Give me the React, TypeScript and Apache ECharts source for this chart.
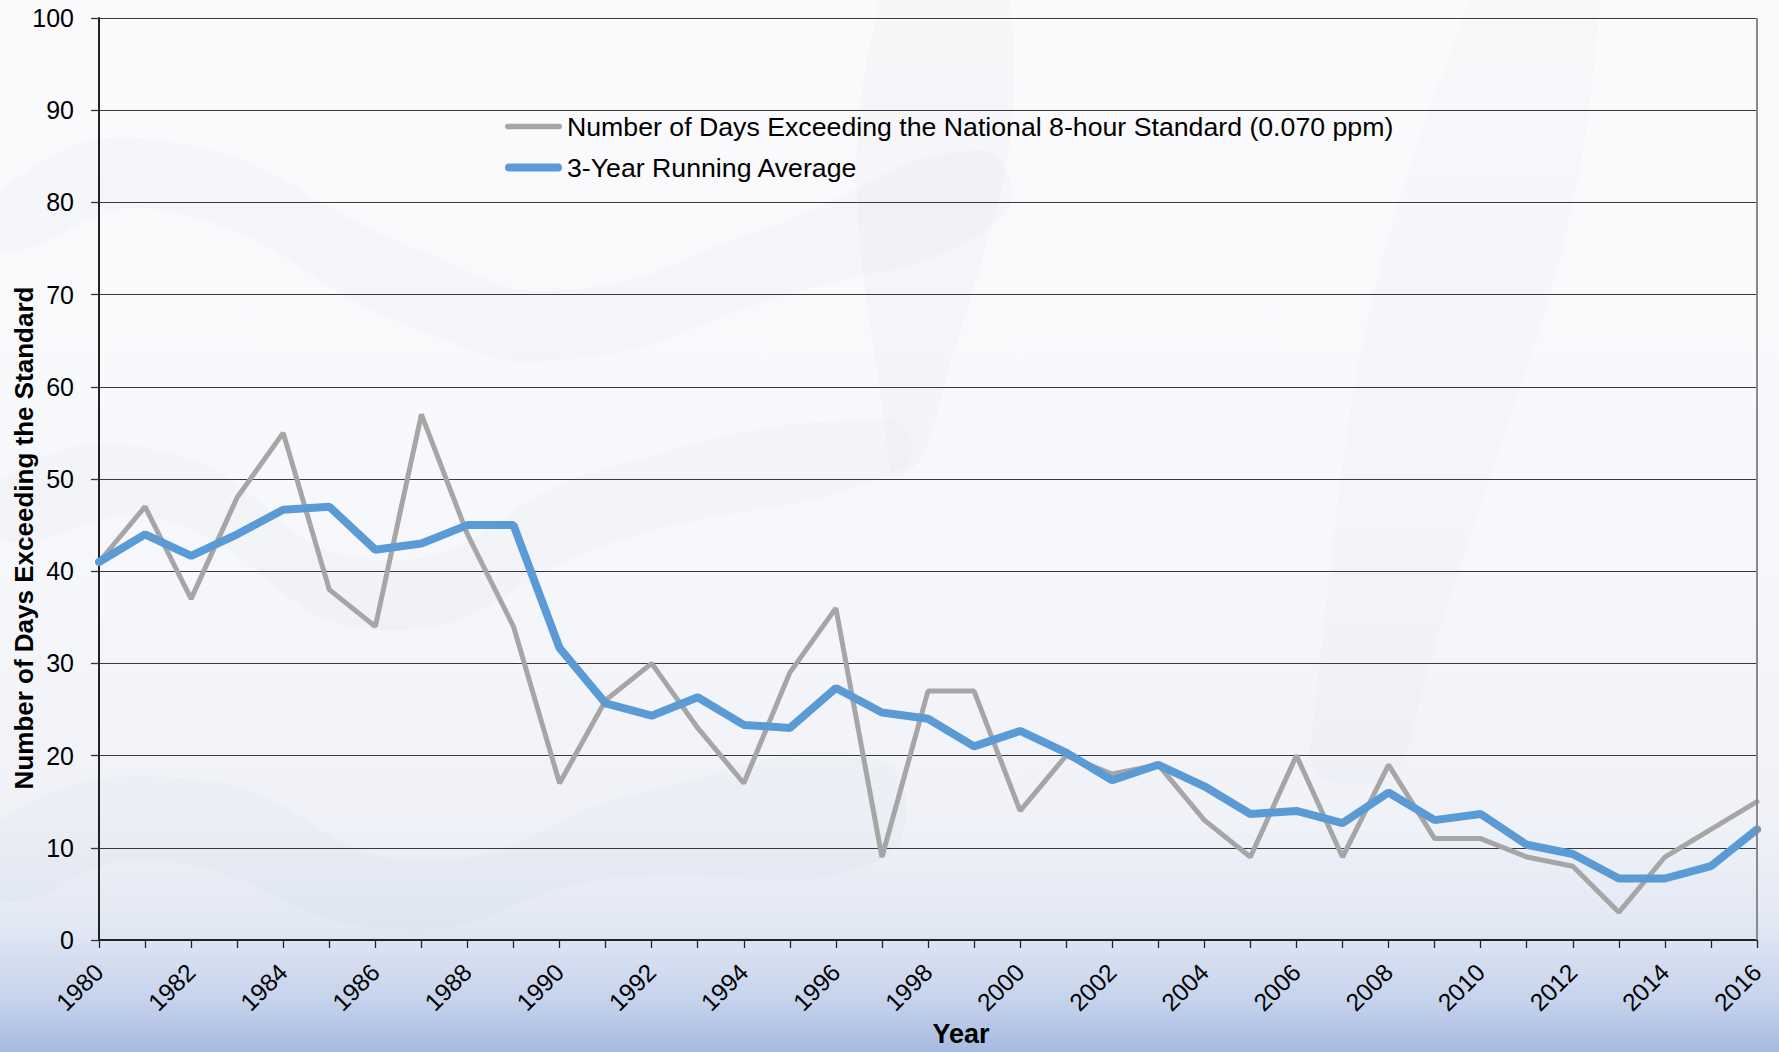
import React, { useEffect, useRef } from "react";
import * as echarts from "echarts";

const years: string[] = [
  "1980","1981","1982","1983","1984","1985","1986","1987","1988","1989",
  "1990","1991","1992","1993","1994","1995","1996","1997","1998","1999",
  "2000","2001","2002","2003","2004","2005","2006","2007","2008","2009",
  "2010","2011","2012","2013","2014","2015","2016",
];

const daysExceeding: number[] = [
  41, 47, 37, 48, 55, 38, 34, 57, 44, 34,
  17, 26, 30, 23, 17, 29, 36, 9, 27, 27,
  14, 20, 18, 19, 13, 9, 20, 9, 19, 11,
  11, 9, 8, 3, 9, 12, 15,
];

const runningAverage: number[] = [
  41.0, 44.0, 41.67, 44.0, 46.67, 47.0, 42.33, 43.0, 45.0, 45.0,
  31.67, 25.67, 24.33, 26.33, 23.33, 23.0, 27.33, 24.67, 24.0, 21.0,
  22.67, 20.33, 17.33, 19.0, 16.67, 13.67, 14.0, 12.67, 16.0, 13.0,
  13.67, 10.33, 9.33, 6.67, 6.67, 8.0, 12.0,
];

const seriesNames: string[] = [
  "Number of Days Exceeding the National 8-hour Standard (0.070 ppm)",
  "3-Year Running Average",
];

const xTitle = "Year";
const yTitle = "Number of Days Exceeding the Standard";

const FONT = "'Liberation Sans', Arial, sans-serif";

const GRAY = "#a6a6a6";
const BLUE = "#5b9bd5";

function stadium(w: number, h: number): string {
  const r = h / 2;
  return `path://M${r},0 L${w - r},0 A${r},${r} 0 0 1 ${w - r},${h} L${r},${h} A${r},${r} 0 0 1 ${r},0 Z`;
}

export default function App() {
  const ref = useRef<HTMLDivElement>(null);

  useEffect(() => {
    document.body.style.margin = "0";
    const chart = echarts.init(ref.current!, undefined, { renderer: "svg" });
    const swoosh = (points: number[][], opacity: number) => ({
      type: "polygon",
      silent: true,
      z: -10,
      shape: { points, smooth: 0.5 },
      style: { fill: "#c9cfdc", opacity },
    });
    chart.setOption({
      animation: false,
      backgroundColor: new echarts.graphic.LinearGradient(0, 0, 0, 1, [
        { offset: 0, color: "#fbfbfd" },
        { offset: 0.5, color: "#f7f8fb" },
        { offset: 0.78, color: "#f0f2f8" },
        { offset: 0.88, color: "#e2e8f4" },
        { offset: 0.95, color: "#c6d3ec" },
        { offset: 1, color: "#a6bbe1" },
      ]),
      textStyle: { fontFamily: FONT },
      grid: { left: 99, right: 22, top: 18, bottom: 112, containLabel: false, outerBoundsMode: "none" },
      legend: {
        orient: "vertical",
        left: 500,
        top: 108,
        itemWidth: 57,
        itemHeight: 14,
        itemGap: 14,
        symbolKeepAspect: true,
        textStyle: { fontSize: 26.7, color: "#000", fontFamily: FONT },
        data: [
          { name: seriesNames[0], icon: stadium(57, 5.5), itemStyle: { color: GRAY } },
          { name: seriesNames[1], icon: stadium(57, 8), itemStyle: { color: BLUE } },
        ],
      },
      xAxis: {
        type: "category",
        data: years,
        boundaryGap: false,
        axisLine: { show: true, lineStyle: { color: "#222", width: 2 } },
        axisTick: { show: true, interval: 0, length: 8, lineStyle: { color: "#222", width: 1.3 } },
        axisLabel: {
          interval: 1,
          rotate: 45,
          fontSize: 24.5,
          color: "#000",
          margin: 28,
          fontFamily: FONT,
        },
        splitLine: { show: false },
      },
      yAxis: {
        type: "value",
        min: 0,
        max: 100,
        interval: 10,
        axisLine: { show: true, lineStyle: { color: "#222", width: 2 } },
        axisTick: { show: true, length: 8, lineStyle: { color: "#333", width: 1.3 } },
        axisLabel: { fontSize: 25, color: "#000", margin: 25, fontFamily: FONT },
        splitLine: { show: true, lineStyle: { color: "#3a3a3a", width: 1.2 } },
      },
      graphic: [
        swoosh([[0, 190], [160, 140], [420, 250], [560, 290], [760, 230], [980, 150], [1000, 220], [770, 300], [560, 360], [420, 330], [160, 210], [0, 250]], 0.09),
        swoosh([[0, 480], [160, 450], [380, 560], [600, 470], [890, 420], [900, 470], [620, 540], [380, 630], [160, 520], [0, 540]], 0.08),
        swoosh([[880, 0], [1010, 0], [930, 440], [890, 470]], 0.08),
        swoosh([[1470, 0], [1600, 0], [1420, 700], [1380, 780], [1310, 750]], 0.06),
        swoosh([[0, 820], [200, 780], [420, 860], [650, 790], [880, 760], [880, 860], [600, 880], [400, 930], [150, 860], [0, 900]], 0.1),
        {
          type: "line",
          shape: { x1: 1757, y1: 18, x2: 1757, y2: 940 },
          style: { stroke: "#8a8a8a", lineWidth: 2 },
          z: 10,
        },
        {
          type: "text",
          x: 961,
          y: 1034,
          style: {
            text: xTitle,
            font: `bold 27px ${FONT}`,
            fill: "#000",
            align: "center",
            verticalAlign: "middle",
          },
          z: 10,
        },
        {
          type: "text",
          x: 24,
          y: 538,
          rotation: Math.PI / 2,
          style: {
            text: yTitle,
            font: `bold 26px ${FONT}`,
            fill: "#000",
            align: "center",
            verticalAlign: "middle",
          },
          z: 10,
        },
      ],
      series: [
        {
          name: seriesNames[0],
          type: "line",
          data: daysExceeding,
          symbol: "none",
          lineStyle: { color: GRAY, width: 5, cap: "round" },
          itemStyle: { color: GRAY },
          z: 3,
        },
        {
          name: seriesNames[1],
          type: "line",
          data: runningAverage,
          symbol: "none",
          lineStyle: { color: BLUE, width: 8, cap: "round" },
          itemStyle: { color: BLUE },
          z: 4,
        },
      ],
    });
    return () => chart.dispose();
  }, []);

  return (
    <div
      ref={ref}
      style={{ position: "fixed", left: 0, top: 0, width: 1779, height: 1052 }}
    />
  );
}
